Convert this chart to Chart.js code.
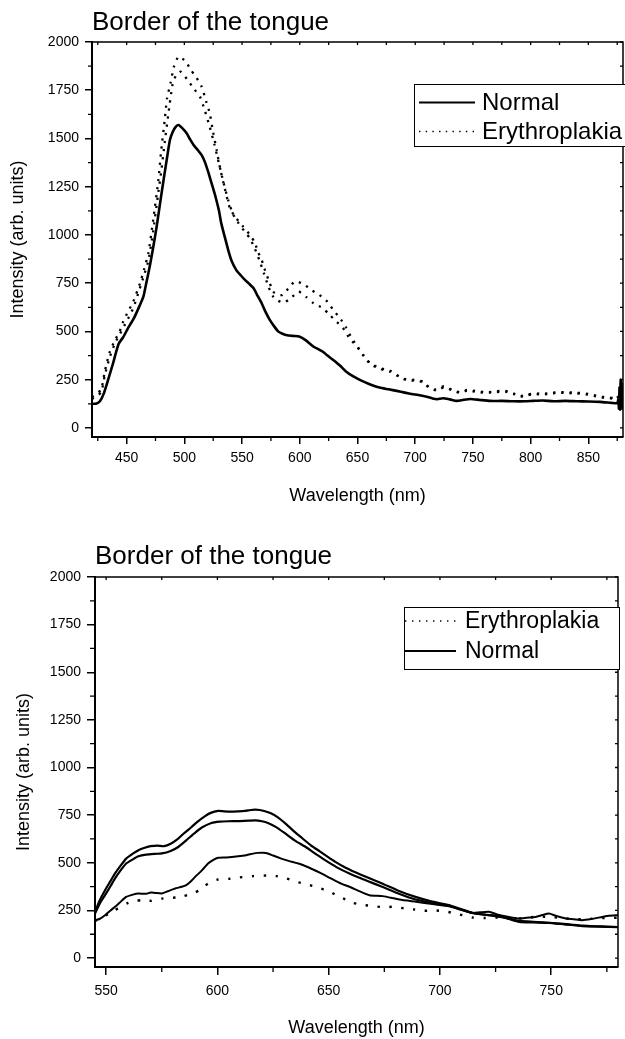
<!DOCTYPE html>
<html><head><meta charset="utf-8">
<script src="https://cdn.jsdelivr.net/npm/chart.js@4.4.1/dist/chart.umd.min.js"></script>
<style>
html,body{margin:0;padding:0;background:#fff;}
#wrap{position:relative;width:625px;height:1039px;overflow:hidden;background:#fff;}
canvas{position:absolute;left:0;}
</style></head><body>
<div id="wrap">
<canvas id="c1" width="625" height="520" style="top:0px"></canvas>
<canvas id="c2" width="625" height="519" style="top:520px"></canvas>
</div>
<script>
// ---------- DATA (wavelength nm, intensity arb. units) ----------
const chartTitle = 'Border of the tongue';
const xAxisTitle = 'Wavelength (nm)';
const yAxisTitle = 'Intensity (arb. units)';

// Tick labels
const yTicks = [0, 250, 500, 750, 1000, 1250, 1500, 1750, 2000];
const topXTicks = [450, 500, 550, 600, 650, 700, 750, 800, 850];
const botXTicks = [550, 600, 650, 700, 750];

// Top panel
const topNormal = [[420,125],[424,127],[427,140],[430,175],[434,250],[438,330],[443,435],[447,470],[451,515],[454,545],[457,577],[461,630],[464.5,680],[467,750],[470,836],[473,935],[476,1043],[479,1165],[482,1285],[485,1400],[487.5,1492],[490,1535],[492.5,1560],[495,1570],[498,1555],[502,1527],[505,1495],[508,1466],[511,1445],[515,1414],[518,1375],[521,1320],[524,1260],[527,1198],[530,1125],[532,1060],[535,990],[538,922],[541,865],[545,818],[549,790],[552.5,767],[556,748],[560,724],[563,690],[567,646],[570,605],[574,560],[578,525],[581.5,499],[585,488],[589,480],[594,477],[600,473],[605,455],[612,421],[617,405],[620,395],[624,375],[629,352],[635,322],[640,292],[646,268],[652,249],[660,228],[669,209],[677,200],[684,192],[691,183],[698,175],[705,168],[710,162],[715,153],[719,149],[724,154],[730,148],[736,140],[742,146],[748,150],[756,145],[765,140],[775,140],[785,138],[795,138],[802,140],[810,142],[820,138],[830,140],[840,138],[850,137],[860,135],[870,130],[875,128],[876,150],[876.5,100],[877,210],[877.5,95],[878,250],[878.5,110],[879,230],[879.5,100],[880,180]];
const topErythroA = [[420,160],[424,175],[428,200],[431,290],[435,387],[440,456],[444,500],[447,551],[451,600],[455.7,654],[461.6,750],[465,820],[468.8,905],[473,1078],[477.5,1285],[480,1440],[483,1596],[485,1708],[488,1786],[491,1872],[495,1924],[501.5,1898],[505,1860],[510,1820],[515,1768],[519,1690],[522,1630],[525,1530],[528,1440],[531,1345],[535,1242],[539.5,1138],[545,1086],[551,1043],[557,1000],[561,960],[564,910],[567,870],[570,815],[574,750],[577,706],[581,690],[585,689],[591,729],[596,760],[603,746],[610,715],[617,689],[624,654],[629,611],[635,568],[640,521],[645,465],[650,421],[655,378],[661,335],[670,309],[678,297],[684,275],[692,252],[699,249],[707,240],[712,211],[718,200],[725,216],[732,197],[739,185],[745,197],[754,190],[762,185],[770,190],[778,192],[785,180],[790,165],[797,172],[803,180],[810,176],[817,182],[825,186],[832,185],[840,182],[846,180],[853,172],[861,162],[868,158],[872,154],[875,150],[876,180],[877,120],[878,240],[879,140],[880,200]];
const topErythroB = [[420,150],[424,165],[428,185],[431,270],[435,360],[440,440],[444,485],[448,530],[452,575],[456,625],[461,715],[465,790],[469,870],[473,1020],[477,1200],[480,1330],[483,1480],[486,1620],[489.8,1780],[493,1830],[497,1846],[502.8,1803],[508.6,1755],[513.5,1717],[518,1640],[522,1560],[526,1470],[530,1370],[534,1270],[538,1180],[542,1110],[547,1060],[552,1020],[557,980],[561,930],[565,870],[569,800],[573,730],[577,680],[580,663],[586,649],[592,672],[599,706],[606,677],[612,646],[620,620],[626,585],[632,550],[637,522],[643,465],[650,418],[655,375],[661,332],[670,305],[678,292],[684,272],[692,248],[699,245],[707,236],[712,208],[718,195],[725,210],[732,195],[739,182],[745,193],[754,186],[762,182],[770,186],[778,188],[785,176],[790,162],[797,168],[803,176],[810,172],[817,178],[825,182],[832,181],[840,178],[846,176],[853,168],[861,158],[868,155],[872,150],[875,146]];

// Bottom panel
const botNormal1 = [[545,243],[547,300],[549.5,356],[552,405],[554,444],[556.5,485],[559,522],[562,548],[564.5,566],[567,578],[570,587],[573,590],[576,587],[579,600],[582.4,627],[585,655],[588.4,688],[591,715],[594.3,744],[597,762],[600.3,772],[603,770],[606.3,769],[609,770],[612.3,772],[615,777],[617,779],[619,777],[621,772],[624,760],[627,740],[631,702],[634.7,662],[638,630],[642,592],[646,560],[649.6,531],[653,505],[657,478],[659.3,465],[662,450],[667,425],[674,391],[681,355],[689,321],[696,298],[704,278],[710,255],[714.6,237],[720,228],[726.6,220],[731,205],[735.6,190],[742,187],[749,185],[756,177],[764,168],[772,165],[780,163]];
const botNormal2 = [[545,234],[547,283],[549.5,330],[552,378],[554,418],[556.5,460],[559,496],[562,518],[564.5,534],[568,543],[572,547],[575,549],[579,562],[582.4,583],[586,618],[589.9,657],[593,685],[597.3,709],[601,716],[604.8,718],[610,719],[614,721],[617,723],[620,718],[622.7,709],[626,690],[630,658],[634.7,618],[640,580],[645,540],[649.6,505],[655,468],[659.3,444],[663,425],[668,402],[674,374],[681,340],[689,307],[696,290],[704,275],[710,252],[715,235],[722,225],[730,210],[736,195],[742,190],[750,184],[757,178],[764,170],[772,166],[780,162]];
const botNormal3 = [[545,199],[547,205],[549.5,225],[552,250],[554,269],[556,290],[559,321],[562,333],[564.5,339],[568,337],[570,344],[572,342],[575,339],[578,352],[581,365],[584,374],[586,383],[588,402],[590,426],[593,460],[595.8,496],[598,514],[600.3,526],[604,528],[609.3,534],[613,540],[616,548],[618.2,552],[620.5,553],[622.7,549],[625,538],[628.7,522],[632,510],[637.7,491],[642,470],[646.7,444],[651,418],[655.6,391],[659.3,374],[664,350],[668.3,330],[674.3,325],[681.8,307],[689.3,295],[696.7,283],[704,272],[709,255],[714.6,237],[718,240],[722,243],[726,228],[731,216],[735.6,208],[739,212],[743,216],[746,226],[749,234],[752,222],[756.5,208],[760,204],[764,199],[768,205],[773,216],[776,222],[780,225]];
const botErythro = [[545,195],[548,210],[551,232],[554,252],[557,272],[560,290],[563,300],[566,304],[570.4,300],[573,306],[575.6,313],[578,315],[581.6,318],[585,326],[587.6,335],[590,345],[592,356],[594,375],[595.8,391],[598,404],[600.3,412],[605.5,416],[610,423],[616,430],[622,433],[626.5,430],[631,418],[635.4,400],[639.9,388],[645.1,370],[650,350],[655,322],[660.9,290],[666,278],[670.6,272],[675,266],[679.5,270],[684,260],[688.5,255],[693,248],[697.5,250],[702,246],[705.7,237],[710,225],[714.6,213],[720,210],[726,212],[732,205],[738,210],[744,218],[750,215],[756,208],[762,204],[768,206],[774,210],[780,212]];

// ---------- CHART SETUP ----------
Chart.defaults.font.family = "'Liberation Sans', Arial, Helvetica, sans-serif";
Chart.defaults.color = '#000';

function series(points, label, width, dash) {
  return {
    label: label,
    data: points.map(p => ({x: p[0], y: p[1]})),
    borderColor: '#000', backgroundColor: '#000',
    borderWidth: width, borderDash: dash, borderCapStyle: 'butt', borderJoinStyle: 'round',
    pointRadius: 0, pointHoverRadius: 0, tension: 0.2, fill: false
  };
}

const framePlugin = {
  id: 'frame',
  afterDatasetsDraw(chart, args, o) {
    const {ctx, chartArea: a} = chart;
    const x = chart.scales.x, y = chart.scales.y;
    ctx.save();
    ctx.strokeStyle = '#000';
    ctx.lineWidth = o.frameWidth;
    ctx.beginPath();
    ctx.moveTo(a.left, a.top); ctx.lineTo(a.right, a.top); ctx.lineTo(a.right, a.bottom);
    ctx.stroke();
    ctx.lineWidth = o.tickWidth;
    ctx.beginPath();
    for (let v = Math.ceil(x.min / o.xMinor) * o.xMinor; v <= x.max; v += o.xMinor) {
      const px = x.getPixelForValue(v);
      if (Math.abs(v % o.xMajor) > 1e-6) { ctx.moveTo(px, a.bottom); ctx.lineTo(px, a.bottom + o.minorLen); }
      ctx.moveTo(px, a.top); ctx.lineTo(px, a.top + o.innerLen);
    }
    for (let v = Math.ceil(y.min / o.yMinor) * o.yMinor; v <= y.max; v += o.yMinor) {
      const py = y.getPixelForValue(v);
      if (Math.abs(v % o.yMajor) > 1e-6) { ctx.moveTo(a.left, py); ctx.lineTo(a.left - o.minorLen, py); }
      ctx.moveTo(a.right, py); ctx.lineTo(a.right - o.innerLen, py);
    }
    ctx.stroke();
    ctx.restore();
  }
};

const boxLegendPlugin = {
  id: 'boxLegend',
  afterDraw(chart, args, o) {
    const {ctx, chartArea: a} = chart;
    const bx = a.left + o.dx, by = a.top + o.dy;
    ctx.save();
    ctx.fillStyle = '#fff';
    ctx.fillRect(bx, by, o.w, o.h);
    ctx.strokeStyle = '#000'; ctx.lineWidth = 1;
    ctx.strokeRect(bx + 0.5, by + 0.5, o.w, o.h);
    o.items.forEach((idx, i) => {
      const ds = chart.data.datasets[idx];
      const yy = by + o.rowY[i];
      const dotted = ds.borderDash && ds.borderDash.length > 0;
      ctx.beginPath();
      ctx.lineWidth = dotted ? o.dotWidth : o.lineWidth;
      ctx.setLineDash(dotted ? o.dotDash : []);
      ctx.moveTo(bx + o.lineX0, yy); ctx.lineTo(bx + o.lineX1, yy);
      ctx.stroke();
      ctx.setLineDash([]);
      ctx.fillStyle = '#000';
      ctx.font = o.fontSize + "px 'Liberation Sans', Arial, sans-serif";
      ctx.textBaseline = 'middle'; ctx.textAlign = 'left';
      ctx.fillText(ds.label, bx + o.textX, yy + 1);
    });
    ctx.restore();
  }
};

function buildOptions(g) {
  return {
    responsive: false, animation: false, devicePixelRatio: 1,
    events: [],
    layout: {padding: {left: 0, right: g.padRight, top: 0, bottom: 0}},
    scales: {
      x: {
        type: 'linear', position: 'bottom', min: g.xMin, max: g.xMax,
        afterBuildTicks: s => { s.ticks = g.xTicks.map(v => ({value: v})); },
        ticks: {autoSkip: false, maxRotation: 0, minRotation: 0,
                font: {size: 14}, color: '#000', padding: g.xTickPad, callback: v => String(v)},
        grid: {drawOnChartArea: false, drawTicks: true, tickLength: g.majorLen, color: '#000', lineWidth: 1.5},
        border: {display: true, color: '#000', width: 2},
        title: {display: true, text: xAxisTitle, font: {size: 18}, color: '#000', padding: {top: 0, bottom: g.xTitlePad}},
        afterFit: s => { s.height = g.xHeight; }
      },
      y: {
        type: 'linear', position: 'left', min: g.yMin, max: g.yMax,
        afterBuildTicks: s => { s.ticks = g.yTicks.map(v => ({value: v})); },
        ticks: {autoSkip: false,
                font: {size: 14}, color: '#000', padding: g.yTickPad, callback: v => String(v)},
        grid: {drawOnChartArea: false, drawTicks: true, tickLength: g.majorLen, color: '#000', lineWidth: 1.5},
        border: {display: true, color: '#000', width: 2},
        title: {display: true, text: yAxisTitle, font: {size: 18}, color: '#000', padding: {top: g.yTitlePad, bottom: 0}},
        afterFit: s => { s.width = g.yWidth; }
      }
    },
    plugins: {
      legend: {display: false},
      tooltip: {enabled: false},
      title: {display: true, text: chartTitle, align: 'start', fullSize: false,
              font: {size: 26, weight: 'normal'}, color: '#000',
              padding: {top: g.titleTop, bottom: g.titleBottom}},
      frame: {frameWidth: 1.5, tickWidth: 1.3, xMinor: g.xStep / 2, xMajor: g.xStep,
              yMinor: g.yStep / 2, yMajor: g.yStep, minorLen: g.minorLen, innerLen: 3},
      boxLegend: g.legend
    }
  };
}

// Top chart
new Chart(document.getElementById('c1'), {
  type: 'line',
  data: {datasets: [
    series(topNormal, 'Normal', 2.6, []),
    series(topErythroA, 'Erythroplakia', 2.3, [2.2, 6]),
    series(topErythroB, 'Erythroplakia', 2.3, [2.2, 6])
  ]},
  options: buildOptions({
    xMin: 420, xMax: 880, xStep: 50, yMin: -47, yMax: 2000, yStep: 250,
    xTicks: topXTicks, yTicks: yTicks,
    padRight: 2, xHeight: 83, yWidth: 92, majorLen: 7, minorLen: 4,
    xTickPad: 6, yTickPad: 6, xTitlePad: 13, yTitlePad: 7.3,
    titleTop: 7.5, titleBottom: 3.3,
    legend: {dx: 322, dy: 42, w: 212, h: 62, items: [0, 1], rowY: [18.5, 47.5],
             lineX0: 5, lineX1: 61, textX: 68, fontSize: 24,
             lineWidth: 2, dotWidth: 1.3, dotDash: [1.4, 5.3]}
  }),
  plugins: [framePlugin, boxLegendPlugin]
});

// Bottom chart
new Chart(document.getElementById('c2'), {
  type: 'line',
  data: {datasets: [
    series(botNormal1, 'Normal', 2.2, []),
    series(botNormal2, 'Normal', 2.2, []),
    series(botNormal3, 'Normal', 2.0, []),
    series(botErythro, 'Erythroplakia', 2.4, [2.4, 9.5])
  ]},
  options: buildOptions({
    xMin: 545, xMax: 780, xStep: 50, yMin: -47, yMax: 2000, yStep: 250,
    xTicks: botXTicks, yTicks: yTicks,
    padRight: 7, xHeight: 72, yWidth: 95, majorLen: 8, minorLen: 5,
    xTickPad: 8, yTickPad: 6, xTitlePad: 0, yTitlePad: 13.3,
    titleTop: 20.8, titleBottom: 5,
    legend: {dx: 309, dy: 30, w: 215, h: 62, items: [3, 0], rowY: [14, 44],
             lineX0: 1, lineX1: 52, textX: 61, fontSize: 23,
             lineWidth: 2, dotWidth: 1.3, dotDash: [1.4, 5.6]}
  }),
  plugins: [framePlugin, boxLegendPlugin]
});
</script>
</body></html>
